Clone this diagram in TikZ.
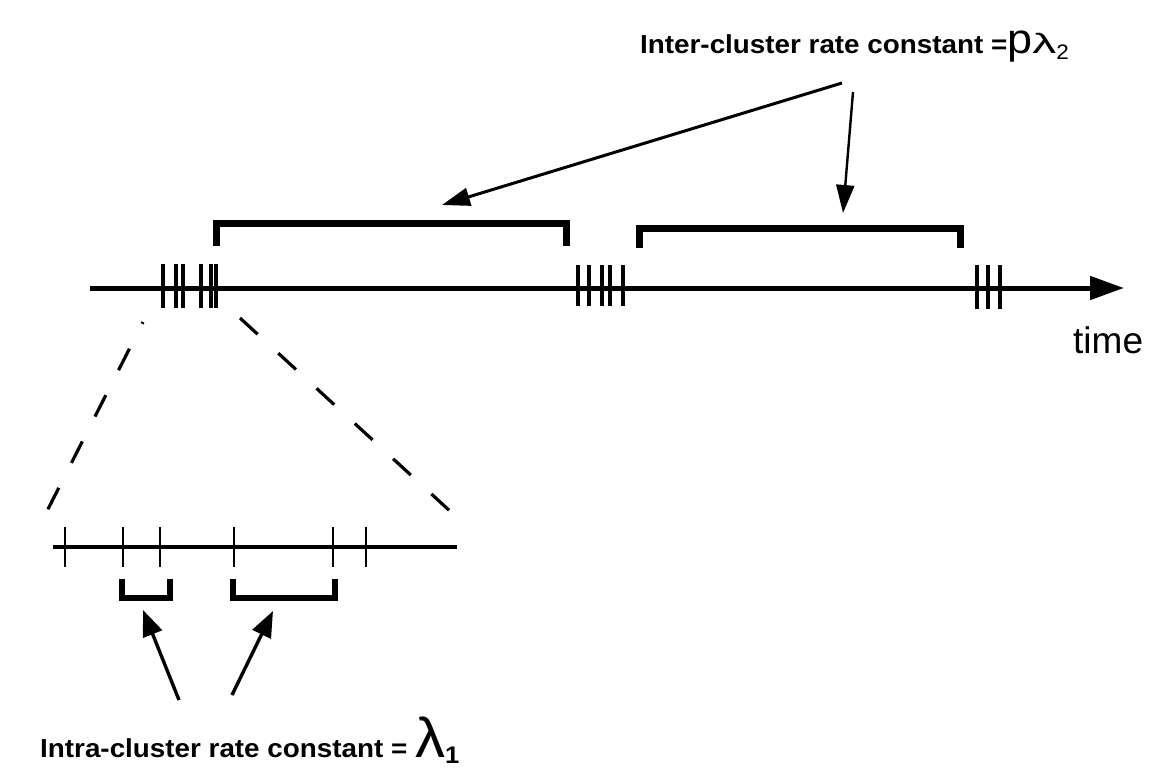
\documentclass[tikz,border=0pt]{standalone}
\usepackage{fontspec}
\usepackage{graphicx}
\setmainfont{Liberation Sans}
\newfontfamily\labelfont[FakeStretch=1.07]{Liberation Sans}
\usetikzlibrary{arrows.meta}
\begin{document}
\begin{tikzpicture}[x=1pt,y=-1pt,
  axis/.style={line width=5pt},
  tick/.style={line width=3.2pt},
  brace/.style={line width=7pt, line join=miter},
  smallbrace/.style={line width=5.5pt, line join=miter},
  zoomline/.style={line width=4pt},
  ztick/.style={line width=2.8pt},
  guide/.style={line width=3.2pt, dash pattern=on 24pt off 28pt},
  pointer/.style={line width=3pt, -{Triangle[length=28pt,width=18pt]}},
  uppointer/.style={line width=3.4pt, -{Triangle[length=26pt,width=20pt]}},
  label/.style={inner sep=0pt, anchor=base west, font=\labelfont\bfseries\fontsize{26}{26}\selectfont}]

\useasboundingbox (0,0) rectangle (1157,774);

% time axis
\coordinate (axisstart) at (90,288);
\coordinate (axisend) at (1124,288);
\draw[axis, -{Triangle[length=34pt,width=23pt]}] (axisstart) -- (axisend);
\node[anchor=base west, inner sep=0pt, font=\fontsize{37}{37}\selectfont] (time) at (1073,353) {time};

% event clusters on the axis
\foreach \x in {163,176,183,201,211,216} \draw[tick] (\x,264) -- (\x,308);
\foreach \x in {578,589,602,610,623} \draw[tick] (\x,265) -- (\x,306);
\foreach \x in {977,988,1000} \draw[tick] (\x,265) -- (\x,309);

% gaps between clusters
\draw[brace] (216,246) -- (216,223) -- (566,223) -- (566,246);
\draw[brace] (639,248) -- (639,228) -- (960,228) -- (960,248);

% magnified view of the first cluster
\coordinate (zl) at (143,322);
\coordinate (zl2) at (45,515);
\coordinate (zr) at (240,318);
\coordinate (zr2) at (451,512);
\draw[guide, dash phase=22pt] (zl) -- (zl2);
\draw[guide] (zr) -- (zr2);

\coordinate (zs) at (53,547);
\coordinate (ze) at (457,547);
\draw[zoomline] (zs) -- (ze);
\foreach \x in {65,123,160,234,333,366} \draw[ztick] (\x,527) -- (\x,567);

\draw[smallbrace] (122,579) -- (122,598) -- (170,598) -- (170,579);
\draw[smallbrace] (233,579) -- (233,598) -- (335,598) -- (335,579);

% labels
\node[label] (inter) at (640,53) {Inter-cluster rate constant =\mdseries\fontsize{42}{42}\selectfont p\fontsize{28}{28}\selectfont\scalebox{1.6}[1]{λ}\raisebox{-6pt}{\fontsize{21}{21}\selectfont 2}};
\node[label] (intra) at (40,757) {Intra-cluster rate constant = \mdseries\fontsize{56}{56}\selectfont λ\raisebox{-6pt}{\bfseries\fontsize{24}{24}\selectfont 1}};

% pointers from the labels
\coordinate (interA) at (842,83);
\coordinate (interB) at (853,92);
\coordinate (gapA) at (442,205);
\coordinate (gapB) at (843,213);
\draw[pointer] (interA) -- (gapA);
\draw[pointer, line width=2.4pt] (interB) -- (gapB);

\coordinate (intraA) at (179,700);
\coordinate (intraB) at (232,695);
\coordinate (runA) at (143,610);
\coordinate (runB) at (273,611);
\draw[uppointer] (intraA) -- (runA);
\draw[uppointer] (intraB) -- (runB);
\end{tikzpicture}
\end{document}
